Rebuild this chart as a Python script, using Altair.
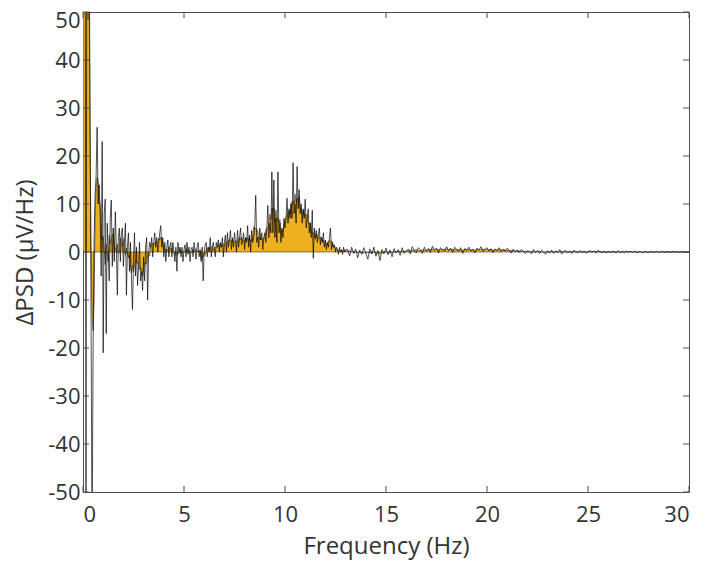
import altair as alt
import pandas as pd

raw_low = [
    62, 120, 100, -58, 110, 90, 70, 30, -15, -62, -20, 3, 12, 16, 26, 10, 14, 8, -5, 23,
    -21, 8, 11, -17, 6, 0, -6, 7, 10.8, -3, 5, -2, 8.4, 1, -9, 3, 5, -2, 4, 5,
    -3, 2, 6, -9, 1, 4, -4, 2, -6, -12, -2, 4, -5, 1, -7, -3, 2, -6, -4, -8,
    -1, -6, 1, 3, -10, 0, 2, 1, 3, -1, 2, 4, 1, 3, 0, 2, 4, 5.5, 1, 3,
    -1, 2, -2, 1, 2.5, -1, 1, 2, -1, 2, 0, -2, 1, -4, 2, 0, 1, -1, 1, -2,
    0.5, 1.5, -1, 2, -0.5, 1, -2, 0.5, 1, -1, 2, 0, -1.5, 1, 2, -1, 0.5, -2, 1, -6,
    0, 1.5, 2, -1, 1, 0, 3, -1, 1, 2, 0.5, -1, 2, 1, 2.5, 0, 2, 1, 3, -1,
    2, 3.5, 0, 4, 1, 2.5, 4.5, 0.5, 3, 1, 4, 2, 0, 4.5, 1, 3, 5, 1.5, 2, 4,
    0.5, 3, 2, 5.5, 1, 3.5, 0, 4.5, 2, 3, 5, 11.8, 2, 3, 1, 5, 2.5, 4, 0.5, 3,
    4, 2, 5, 9.7, 3, 6, 4, 16.7, 4, 15, 3, 7, 2, 16.7, 4, 6, 2, 5, 3, 7,
    5, 7, 11.2, 6, 9, 7, 10, 7, 18.6, 8, 10, 6, 17.8, 9, 13, 8, 10, 6, 9, 7,
    11, 5, 7, 9, 4, 6, 3, 8.7, -1.3, 5, 3, 4.5, 2, 3.5, 5, 1.5, 3, 2, 4, 1,
    2.5, 0.5, 2, 1, 3, 5, 0.5, 2, 1, 1.5, 0, 1, 0.5, -0.5, 1, 0, 0.5, -0.5, 1, 0,
    0.5,
]

# Delta-PSD, 13.1 - 30 Hz, sampled every 0.1 Hz
raw_high = [
    0.5, -0.8, 1.0, -0.3, 0.6, -1.2, 0.4, -0.5, 0.9, -0.2,
    -1.5, 0.6, -0.4, 1.0, -0.9, 0.3, -1.8, 0.5, -0.3, 0.8,
    -0.6, 0.4, -1.0, 0.7, -0.2, 0.5, -0.7, 0.9, -0.3, 0.2,
    0.6, -0.4, 1.1, 0.3, -0.2, 0.9, 0.4, -0.3, 1.0, 0.2,
    0.7, -0.1, 1.2, 0.4, 0.8, -0.2, 0.9, 0.5, 0.2, 1.1,
    0.3, 0.8, -0.1, 1.0, 0.5, 0.2, 0.9, -0.3, 0.7, 0.4,
    1.0, 0.2, 0.6, -0.2, 0.8, 0.4, 1.1, 0.1, 0.5, 0.9,
    0.2, 0.7, -0.1, 0.6, 0.3, 0.9, 0.1, 0.5, 0.2, 0.8,
    0.3, -0.2, 0.6, 0.1, 0.4, -0.1, 0.5, 0.2, -0.3, 0.3,
    0.1, -0.4, 0.5, -0.1, 0.3, -0.3, 0.4, 0.0, -0.5, 0.3,
    -0.2, 0.4, -0.3, 0.2, -0.1, 0.5, -0.4, 0.1, 0.3, -0.2,
    0.2, -0.3, 0.4, 0.0, -0.2, 0.3, -0.1, 0.2, -0.3, 0.1,
    0.3, -0.1, 0.2, -0.2, 0.4, 0.0, -0.1, 0.2, -0.2, 0.1,
    -0.1, 0.2, 0.0, -0.2, 0.3, -0.1, 0.1, -0.2, 0.2, 0.0,
    0.1, -0.1, 0.2, -0.1, 0.0, 0.1, -0.2, 0.1, 0.0, -0.1,
    0.1, 0.0, -0.1, 0.2, -0.1, 0.0, 0.1, -0.1, 0.1, 0.0,
    -0.1, 0.1, 0.0, 0.1, -0.1, 0.0, 0.1, 0.0, -0.1, 0.0,
]

x_ticks = [0, 5, 10, 15, 20, 25, 30]
y_ticks = [-50, -40, -30, -20, -10, 0, 10, 20, 30, 40, 50]

freq = [round(0.05 * i, 2) for i in range(len(raw_low))] + \
       [round(13.1 + 0.1 * i, 1) for i in range(len(raw_high))]
df = pd.DataFrame({"f": freq, "v": raw_low + raw_high})

W, H = 606, 480
FONT = "Open Sans"
TXT = "#333333"
FRAME = "#4d4d4d"

xs = alt.Scale(domain=[0, 30], nice=False, zero=False)
ys = alt.Scale(domain=[-50, 50], nice=False, zero=False)

x_axis = alt.Axis(values=x_ticks, title="Frequency (Hz)", labelPadding=12,
                  labelExpr="'' + datum.value",
                  titleX=W / 2, titleY=54, titleBaseline="middle", titleAlign="center")
y_axis = alt.Axis(values=y_ticks, title="ΔPSD (μV/Hz)", labelPadding=3,
                  labelExpr="'' + datum.value",
                  labelOffset=alt.expr("datum.value == 50 ? 8 : 0"),
                  titleX=-58, titleY=H / 2, titleBaseline="middle", titleAlign="center",
                  titleAngle=270)

base = alt.Chart(df)

area = base.transform_window(
    sm="mean(v)", frame=[-2, 2], sort=[alt.SortField("f")]
).mark_area(
    color="#EDB120", stroke="#333333", strokeWidth=0.6, clip=True, opacity=1
).encode(
    x=alt.X("f:Q", scale=xs, axis=x_axis, title="Frequency (Hz)"),
    y=alt.Y("sm:Q", scale=ys, axis=y_axis, title="ΔPSD (μV/Hz)"),
    y2=alt.datum(0),
)

line = base.mark_line(color="#000000", strokeWidth=0.8, opacity=0.85, clip=True).encode(
    x=alt.X("f:Q", scale=xs, axis=x_axis, title="Frequency (Hz)"),
    y=alt.Y("v:Q", scale=ys, axis=y_axis, title="ΔPSD (μV/Hz)"),
)

xt = pd.DataFrame({"f": x_ticks})
yt = pd.DataFrame({"v": y_ticks})

tick_bottom = alt.Chart(xt).mark_rule(color=FRAME, strokeWidth=1).encode(
    x=alt.X("f:Q", scale=xs, axis=x_axis, title="Frequency (Hz)"),
    y=alt.value(H), y2=alt.value(H - 6))
tick_top = alt.Chart(xt).mark_rule(color=FRAME, strokeWidth=1).encode(
    x=alt.X("f:Q", scale=xs, axis=x_axis, title="Frequency (Hz)"),
    y=alt.value(0), y2=alt.value(6))
tick_left = alt.Chart(yt).mark_rule(color=FRAME, strokeWidth=1).encode(
    y=alt.Y("v:Q", scale=ys, axis=y_axis, title="ΔPSD (μV/Hz)"),
    x=alt.value(0), x2=alt.value(6))
tick_right = alt.Chart(yt).mark_rule(color=FRAME, strokeWidth=1).encode(
    y=alt.Y("v:Q", scale=ys, axis=y_axis, title="ΔPSD (μV/Hz)"),
    x=alt.value(W), x2=alt.value(W - 6))

chart = alt.layer(area, line, tick_bottom, tick_top, tick_left, tick_right).properties(
    width=W, height=H,
    autosize=alt.AutoSizeParams(type="none"),
    padding={"left": 75, "top": 4, "right": 12, "bottom": 70},
).configure_view(
    stroke=FRAME, strokeWidth=1
).configure_axis(
    domain=False, ticks=False, grid=False,
    labelFont=FONT, labelFontSize=22, labelColor=TXT,
    titleFont=FONT, titleFontSize=24, titleFontWeight="normal", titleColor=TXT,
)

chart.save("out.html", embed_options={"renderer": "svg", "actions": False})
